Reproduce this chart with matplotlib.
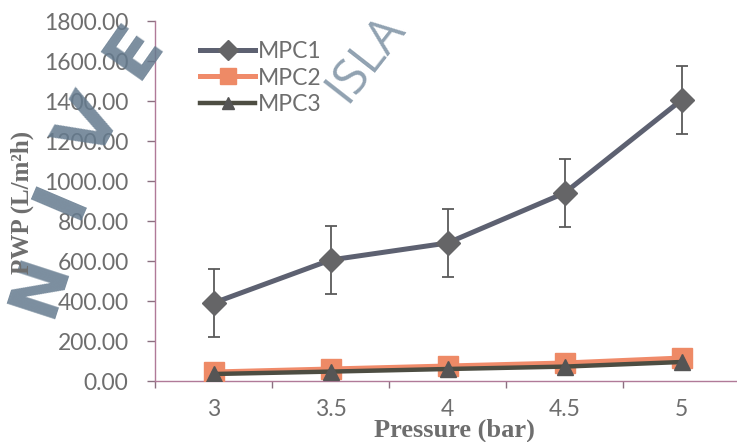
import matplotlib.pyplot as plt
import numpy as np

pressure = ["3", "3.5", "4", "4.5", "5"]
mpc1 = [390, 605, 690, 940, 1405]
mpc1_err = [170, 170, 170, 168, 168]
mpc2 = [45, 60, 75, 90, 115]
mpc3 = [35, 47, 60, 72, 95]

grey_txt = "#6e6e6e"
axis_col = "#b07a98"

fig = plt.figure(figsize=(7.37, 4.42), dpi=100)

# watermark letters laid along an arc behind the chart
wm = dict(family="DejaVu Sans", weight="bold", color="#647a8e", alpha=0.85,
          ha="center", va="center", zorder=0)
for ch, px, py, rot, fs in [("N", 40, 285, 72, 50), ("I", 62, 200, 67, 54),
                            ("V", 92, 128, 61, 54), ("E", 134, 50, 55, 50)]:
    fig.text(px / 737, 1 - py / 442, ch, fontsize=fs, rotation=rot, **wm)
fig.text(366 / 737, 1 - 58 / 442, "ISLA", fontsize=35, rotation=52, ha="center", va="center",
         family="Open Sans", color="#7d91a3", alpha=0.85, zorder=0)

ax = fig.add_axes([155 / 737, 1 - 381 / 442, 585 / 737, 360 / 442])
ax.patch.set_visible(False)

x = np.arange(len(pressure))
ax.errorbar(x, mpc1, yerr=mpc1_err, fmt="none", ecolor="#5a5a5a", elinewidth=1.3,
            capsize=4.5, capthick=1.3, zorder=2)
ax.plot(x, mpc1, color="#5d6171", lw=3.6, marker="D", markersize=12,
        markerfacecolor="#656567", markeredgecolor="#656567", label="MPC1", zorder=3)
ax.plot(x, mpc2, color="#f08b6a", lw=3.6, marker="s", markersize=14,
        markerfacecolor="#ee8a66", markeredgecolor="#ee8a66", label="MPC2", zorder=3)
ax.plot(x, mpc3, color="#4d4d42", lw=3.2, marker="^", markersize=11,
        markerfacecolor="#555555", markeredgecolor="#555555", label="MPC3", zorder=4)

ax.set_xlim(-0.5, len(pressure) - 0.5)
ax.set_ylim(0, 1800)
ax.set_yticks(np.arange(0, 1801, 200))
ax.set_yticklabels([f"{v:.2f}" for v in np.arange(0, 1801, 200)])
ax.set_xticks(x)
ax.set_xticklabels(pressure)
ax.set_xticks(np.arange(-0.5, len(pressure)), minor=True)

for s in ["top", "right"]:
    ax.spines[s].set_visible(False)
for s in ["left", "bottom"]:
    ax.spines[s].set_color(axis_col)
    ax.spines[s].set_linewidth(1.0)

ax.tick_params(axis="y", direction="out", length=6, width=1, color="#8a7080",
               pad=13, labelsize=16.5, labelcolor=grey_txt)
ax.tick_params(axis="x", which="major", length=0, pad=13, labelsize=16.5, labelcolor=grey_txt)
ax.tick_params(axis="x", which="minor", direction="out", length=5, width=1, color="#8a7080")
for lab in ax.get_xticklabels() + ax.get_yticklabels():
    lab.set_family("Lato")

fig.text(22 / 737, 1 - 202 / 442, "PWP (L/m\u00b2h)", rotation=90, ha="center", va="center",
         family="Liberation Serif", weight="bold", fontsize=18, color=grey_txt)
fig.text(454 / 737, 1 - 430 / 442, "Pressure (bar)", ha="center", va="center",
         family="Liberation Serif", weight="bold", fontsize=19, color=grey_txt)

leg = ax.legend(loc="center left", bbox_to_anchor=(200 / 737, 1 - 78 / 442),
                bbox_transform=fig.transFigure, frameon=False, borderpad=0,
                borderaxespad=0, handlelength=2.4, handletextpad=0.12,
                labelspacing=0.22, markerscale=0.85, prop={"family": "Lato", "size": 16.5})
for t in leg.get_texts():
    t.set_color(grey_txt)

fig.savefig("out.png", dpi=100)
